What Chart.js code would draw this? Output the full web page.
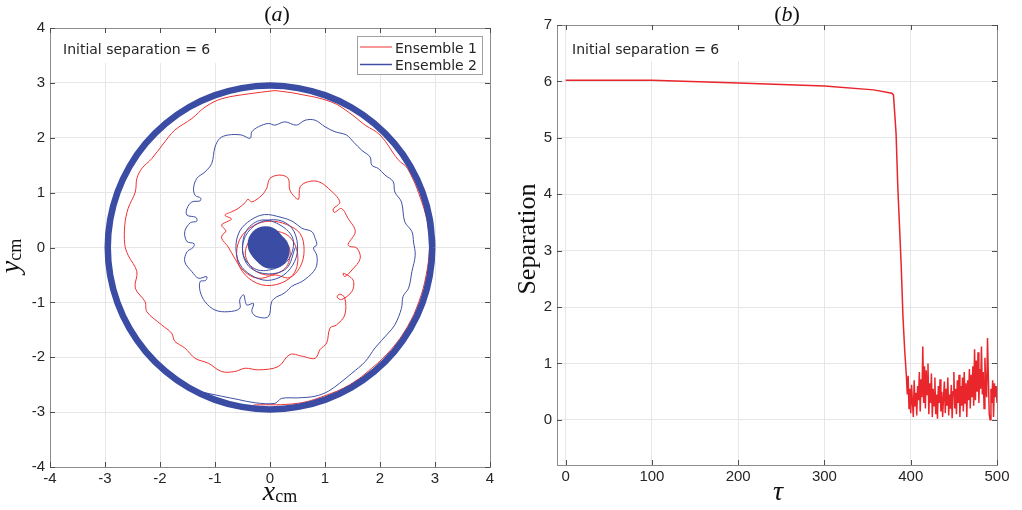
<!DOCTYPE html>
<html lang="en">
<head>
<meta charset="utf-8">
<title>Initial separation = 6</title>
<script src="https://cdn.jsdelivr.net/npm/chart.js@4.4.1/dist/chart.umd.min.js"></script>
<style>
  html, body { margin: 0; padding: 0; background: #fff; }
  #pagina { position: relative; width: 1022px; height: 510px; overflow: hidden; }
  #pagina canvas { position: absolute; top: 0; }
  #grafico-a { left: 0; }
  #grafico-b { left: 511px; }
</style>
</head>
<body>
<div id="pagina">
  <canvas id="grafico-a" width="511" height="510"></canvas>
  <canvas id="grafico-b" width="511" height="510"></canvas>
</div>
<script>
/* ============================================================
   Dados. (a) trajectórias x/y em cm,
   (b) separação entre ensembles ao longo de tau.
   ============================================================ */

const ticksXY = [-4, -3, -2, -1, 0, 1, 2, 3, 4];
const ticksTau = [0, 100, 200, 300, 400, 500];
const ticksSep = [0, 1, 2, 3, 4, 5, 6, 7];

// anel grosso: as órbitas sobrepostas no raio ~2.95
const anelEnsemble2 = [
  [2.95, 0], [2.905, 0.512], [2.772, 1.009], [2.555, 1.475], [2.26, 1.896], [1.896, 2.26],
  [1.475, 2.555], [1.009, 2.772], [0.512, 2.905], [0, 2.95], [-0.512, 2.905], [-1.009, 2.772],
  [-1.475, 2.555], [-1.896, 2.26], [-2.26, 1.896], [-2.555, 1.475], [-2.772, 1.009], [-2.905, 0.512],
  [-2.95, 0], [-2.905, -0.512], [-2.772, -1.009], [-2.555, -1.475], [-2.26, -1.896], [-1.896, -2.26],
  [-1.475, -2.555], [-1.009, -2.772], [-0.512, -2.905], [0, -2.95], [0.512, -2.905], [1.009, -2.772],
  [1.475, -2.555], [1.896, -2.26], [2.26, -1.896], [2.555, -1.475], [2.772, -1.009], [2.905, -0.512],
  [2.95, 0], [2.905, 0.512]
];

// Ensemble 1: segue o anel pelo lado direito e depois espirala para dentro
const anelEnsemble1 = [
  [-0.3, -2.87], [0.5, -2.84], [1.0, -2.7], [1.45, -2.5], [1.85, -2.2], [2.2, -1.86], [2.5, -1.44],
  [2.71, -0.98], [2.84, -0.5], [2.9, 0], [2.88, 0.35], [2.76, 0.83], [2.5, 1.44], [2.33, 1.6],
  [2.0, 2.05], [1.73, 2.23], [1.45, 2.45], [1.12, 2.65], [0.51, 2.8], [0.09, 2.86]
];

const espiralEnsemble1 = [
  [0.09, 2.86], [-0.39, 2.80], [-0.88, 2.71], [-1.18, 2.56], [-1.42, 2.35], [-1.73, 2.14], [-1.94, 1.89],
  [-2.15, 1.62], [-2.33, 1.44], [-2.42, 1.26], [-2.45, 1.01], [-2.58, 0.71], [-2.64, 0.41], [-2.64, 0.05],
  [-2.58, -0.14], [-2.42, -0.44], [-2.45, -0.74], [-2.27, -0.99], [-2.24, -1.17], [-1.97, -1.41],
  [-1.79, -1.56], [-1.73, -1.71], [-1.55, -1.83], [-1.36, -2.02], [-1.12, -2.11], [-0.88, -2.26],
  [-0.64, -2.26], [-0.45, -2.2], [-0.21, -2.23], [0.15, -2.17], [0.36, -1.95], [0.58, -1.98],
  [0.82, -2.02], [0.91, -1.86], [1.03, -1.74], [1.09, -1.47], [1.21, -1.41], [1.36, -1.23],
  [1.36, -0.92], [1.27, -0.85], [1.22, -0.9], [1.3, -0.95], [1.49, -0.8], [1.52, -0.62], [1.45, -0.53],
  [1.33, -0.47], [1.36, -0.53], [1.49, -0.41], [1.64, -0.2], [1.58, -0.01], [1.45, 0.02], [1.42, 0.06],
  [1.55, 0.29], [1.42, 0.53], [1.30, 0.71], [1.17, 0.64], [1.15, 0.70], [1.27, 0.83], [1.06, 1.08],
  [0.88, 1.2], [0.70, 1.2], [0.55, 1.11], [0.52, 0.88], [0.45, 0.92], [0.36, 1.05], [0.33, 1.26],
  [0.18, 1.32], [0, 1.26], [-0.06, 1.08], [-0.15, 0.95], [-0.33, 0.83], [-0.4, 0.88], [-0.45, 0.82],
  [-0.58, 0.71], [-0.70, 0.65], [-0.82, 0.59], [-0.7, 0.52], [-0.76, 0.48], [-0.88, 0.41], [-0.8, 0.3],
  [-0.85, 0.25], [-0.88, 0.17], [-0.76, 0.01], [-0.64, -0.2], [-0.52, -0.38], [-0.33, -0.53],
  [-0.15, -0.56], [0.09, -0.5], [0.35, -0.55], [0.55, -0.35], [0.62, -0.05], [0.55, 0.25], [0.3, 0.42],
  [0.0, 0.48], [-0.3, 0.4], [-0.55, 0.15], [-0.6, -0.2], [-0.45, -0.5], [-0.15, -0.68], [0.2, -0.65],
  [0.45, -0.45], [0.5, -0.1], [0.35, 0.2], [0.05, 0.3], [-0.3, 0.2], [-0.45, -0.1], [-0.3, -0.4],
  [0.0, -0.5], [0.3, -0.35], [0.35, 0.0], [0.1, 0.2], [-0.15, 0.05]
];

// Ensemble 2: sai do anel em baixo, sobe pela direita e fecha no centro
const espiralEnsemble2 = [
  [-1.4, -2.6], [-0.88, -2.71], [-0.58, -2.77], [-0.27, -2.83], [0.09, -2.84], [0.21, -2.75], [0.52, -2.74],
  [0.82, -2.71], [1.06, -2.62], [1.27, -2.47], [1.49, -2.29], [1.73, -2.08], [1.91, -1.83], [2.15, -1.56],
  [2.27, -1.41], [2.39, -1.11], [2.42, -0.89], [2.52, -0.74], [2.58, -0.44], [2.64, -0.14], [2.61, 0.1],
  [2.58, 0.29], [2.45, 0.47], [2.39, 0.83], [2.27, 1.01], [2.24, 1.2], [2.09, 1.32], [1.97, 1.44],
  [1.85, 1.5], [1.82, 1.65], [1.67, 1.77], [1.52, 1.92], [1.39, 2.05], [1.18, 2.11], [1.0, 2.2],
  [0.82, 2.32], [0.64, 2.32], [0.48, 2.23], [0.27, 2.29], [0.09, 2.23], [-0.03, 2.26], [-0.21, 2.2],
  [-0.33, 2.11], [-0.36, 1.99], [-0.52, 2.05], [-0.76, 2.05], [-0.91, 1.99], [-1.0, 1.83], [-1.06, 1.53],
  [-1.18, 1.38], [-1.33, 1.26], [-1.39, 1.08], [-1.36, 0.95], [-1.26, 0.9], [-1.27, 0.85], [-1.42, 0.83],
  [-1.51, 0.71], [-1.51, 0.59], [-1.35, 0.55], [-1.33, 0.48], [-1.45, 0.45], [-1.55, 0.29], [-1.51, 0.11],
  [-1.38, 0.07], [-1.4, 0.0], [-1.51, -0.08], [-1.55, -0.26], [-1.42, -0.44], [-1.30, -0.56], [-1.15, -0.53],
  [-1.17, -0.6], [-1.27, -0.62], [-1.27, -0.8], [-1.18, -0.99], [-1.0, -1.14], [-0.76, -1.17], [-0.55, -1.11],
  [-0.55, -0.95], [-0.48, -0.86], [-0.45, -0.98], [-0.42, -1.05], [-0.30, -1.02], [-0.33, -1.17],
  [-0.24, -1.26], [-0.03, -1.26], [0.03, -0.99], [0.12, -0.9], [0.21, -0.86], [0.3, -0.8], [0.39, -0.71],
  [0.58, -0.62], [0.70, -0.53], [0.79, -0.44], [0.85, -0.32], [0.85, -0.14], [0.79, -0.01], [0.85, 0.05],
  [0.82, 0.17], [0.76, 0.29], [0.58, 0.35], [0.42, 0.47], [0.2, 0.55], [-0.1, 0.6], [-0.35, 0.5],
  [-0.55, 0.3], [-0.62, 0.0], [-0.55, -0.3], [-0.35, -0.5], [-0.05, -0.6], [0.25, -0.5], [0.45, -0.25],
  [0.5, 0.05], [0.4, 0.35], [0.15, 0.5], [-0.2, 0.45], [-0.45, 0.2], [-0.48, -0.15], [-0.25, -0.4], [0.1, -0.38],
  [0.35, -0.2], [0.42, 0.15], [0.2, 0.4], [-0.15, 0.5], [-0.42, 0.32], [-0.5, -0.05], [-0.38, -0.35],
  [-0.05, -0.48], [0.3, -0.38], [0.46, 0.0]
];

// aglomerado denso no centro
const nucleoEnsemble2 = [[-0.03, 0.0], [-0.08, 0.06], [0.03, -0.06]];

// (b) separação: patamar, queda e ruído
const tauQueda = [0, 100, 200, 300, 357, 378, 380, 383, 385, 389, 391, 393, 395];
const sepQueda = [6.02, 6.02, 5.97, 5.92, 5.85, 5.79, 5.76, 5.08, 4.14, 2.72, 1.83, 1.24, 0.77];

const tauRuidoInicio = 396;
const sepRuido = [
  0.45, 0.78, 0.20, 0.55, 0.12, 0.62, 0.30, 0.05, 0.70, 0.25, 0.48, 0.08, 0.60, 0.35, 0.85, 0.15,
  0.72, 0.40, 1.30, 0.30, 0.95, 0.20, 0.88, 0.45, 1.00, 0.10, 0.65, 0.30, 0.82, 0.05, 0.55, 0.25,
  0.75, 0.10, 0.45, 0.02, 0.60, 0.30, 0.72, 0.15, 0.50, 0.05, 0.40, 0.68, 0.12, 0.55, 0.25, 0.75,
  0.08, 0.45, 0.20, 0.62, 0.03, 0.50, 0.85, 0.20, 0.55, 0.10, 0.70, 0.30, 0.80, 0.05, 0.60, 0.25,
  0.75, 0.15, 0.85, 0.30, 0.65, 0.05, 0.70, 0.35, 0.90, 0.20, 0.80, 0.40, 0.95, 0.25, 1.25, 0.35,
  1.05, 0.50, 1.20, 0.30, 0.90, 0.55, 1.30, 0.45, 0.85, 0.20, 1.10, 0.60, 0.40, 1.45, 0.75, 0.10,
  0.00, 0.55, 0.30, 0.70, 0.05, 0.65, 0.40, 0.60, 0.30
];

const VERMELHO = '#f03030';
const VERMELHO_B = '#e8262b';
const AZUL = '#3f4fa6';
const AZUL_ANEL = '#3a4ca3';
const CINZA_TEXTO = '#262626';
const FONTE_TICKS = '"Liberation Sans", Arial, sans-serif';

const pontos = lista => lista.map(([x, y]) => ({ x, y }));

/* ---------- Plugin: moldura estilo MATLAB (caixa, ticks para dentro, textos) ---------- */
function desenharPartes(ctx, partes, cx, base) {
  let total = 0;
  partes.forEach(p => { ctx.font = p.fonte; p.w = ctx.measureText(p.texto).width; total += p.w; });
  let x = cx - total / 2;
  partes.forEach(p => { ctx.font = p.fonte; ctx.fillText(p.texto, x, base + (p.dy || 0)); x += p.w; });
}

const molduraMatlab = {
  id: 'molduraMatlab',
  afterDraw(chart, args, opts) {
    const { ctx, chartArea: a, scales } = chart;
    ctx.save();

    // caixa de texto com fundo branco
    const an = opts.anotacao;
    ctx.fillStyle = '#fff';
    ctx.fillRect(an.caixa[0], an.caixa[1], an.caixa[2], an.caixa[3]);
    ctx.fillStyle = CINZA_TEXTO;
    ctx.font = '14px "DejaVu Sans"';
    ctx.textAlign = 'left';
    ctx.textBaseline = 'alphabetic';
    ctx.fillText(an.texto, an.x, an.y);

    // caixa dos eixos
    ctx.strokeStyle = '#8c8c8c';
    ctx.lineWidth = 1;
    ctx.strokeRect(Math.round(a.left) + 0.5, Math.round(a.top) + 0.5, Math.round(a.right - a.left), Math.round(a.bottom - a.top));

    // ticks para dentro nos quatro lados
    ctx.strokeStyle = '#4d4d4d';
    ctx.beginPath();
    scales.x.ticks.forEach(t => {
      const px = Math.round(scales.x.getPixelForValue(t.value)) + 0.5;
      ctx.moveTo(px, a.bottom); ctx.lineTo(px, a.bottom - 5);
      ctx.moveTo(px, a.top); ctx.lineTo(px, a.top + 5);
    });
    scales.y.ticks.forEach(t => {
      const py = Math.round(scales.y.getPixelForValue(t.value)) + 0.5;
      ctx.moveTo(a.left, py); ctx.lineTo(a.left + 5, py);
      ctx.moveTo(a.right, py); ctx.lineTo(a.right - 5, py);
    });
    ctx.stroke();

    // títulos em serif, com subscrito
    ctx.fillStyle = '#111';
    desenharPartes(ctx, opts.titulo.partes, opts.titulo.x, opts.titulo.y);
    desenharPartes(ctx, opts.rotuloX.partes, opts.rotuloX.x, opts.rotuloX.y);
    ctx.save();
    ctx.translate(opts.rotuloY.x, opts.rotuloY.y);
    ctx.rotate(-Math.PI / 2);
    desenharPartes(ctx, opts.rotuloY.partes, 0, 0);
    ctx.restore();

    // legenda desenhada à mão (só no gráfico a)
    if (opts.legenda) {
      const L = opts.legenda;
      ctx.fillStyle = '#fff';
      ctx.fillRect(L.x, L.y, L.w, L.h);
      ctx.strokeStyle = '#a0a0a0';
      ctx.strokeRect(L.x + 0.5, L.y + 0.5, L.w, L.h);
      L.itens.forEach((item, i) => {
        const ly = L.y + 11 + i * 17.5;
        ctx.strokeStyle = item.cor;
        ctx.lineWidth = item.largura;
        ctx.beginPath();
        ctx.moveTo(L.x + 3, ly); ctx.lineTo(L.x + 35, ly);
        ctx.stroke();
        ctx.fillStyle = CINZA_TEXTO;
        ctx.font = '14px "DejaVu Sans"';
        ctx.fillText(item.texto, L.x + 38, ly + 5.5);
      });
    }
    ctx.restore();
  }
};

const serif = (tam, italico) => `${italico ? 'italic ' : ''}${tam}px "Liberation Serif"`;

function escala(min, max, valores, largura, altura) {
  return {
    type: 'linear',
    min, max,
    afterBuildTicks: s => { s.ticks = valores.map(v => ({ value: v })); },
    afterFit: s => {
      if (largura) s.width = largura;
      if (altura) s.height = altura;
      s.paddingLeft = 0; s.paddingRight = 0; s.paddingTop = 0; s.paddingBottom = 0;
    },
    grid: { color: '#e6e6e6', drawTicks: false },
    border: { display: false },
    ticks: { color: CINZA_TEXTO, font: { family: FONTE_TICKS, size: 15 }, padding: largura ? 5 : 3, maxRotation: 0 }
  };
}

new Chart(document.getElementById('grafico-a'), {
  type: 'scatter',
  data: {
    datasets: [
      { label: 'Ensemble 2', data: pontos(anelEnsemble2), showLine: true, borderColor: AZUL_ANEL, borderWidth: 6.5, tension: 0.4, pointRadius: 0, order: 0 },
      { label: 'Ensemble 2', data: pontos(nucleoEnsemble2), showLine: false, pointRadius: 18, pointBackgroundColor: AZUL_ANEL, pointBorderWidth: 0, order: 1 },
      { label: 'Ensemble 2', data: pontos(espiralEnsemble2), showLine: true, borderColor: AZUL, borderWidth: 1, tension: 0.35, pointRadius: 0, order: 2 },
      { label: 'Ensemble 1', data: pontos(espiralEnsemble1), showLine: true, borderColor: VERMELHO, borderWidth: 1, tension: 0.35, pointRadius: 0, order: 3 },
      { label: 'Ensemble 1', data: pontos(anelEnsemble1), showLine: true, borderColor: VERMELHO, borderWidth: 1, tension: 0.4, pointRadius: 0, order: 4 }
    ]
  },
  options: {
    responsive: false,
    animation: false,
    events: [],
    layout: { padding: { top: 28, right: 21, left: 0, bottom: 0 } },
    scales: {
      x: escala(-4, 4, ticksXY, null, 43),
      y: escala(-4, 4, ticksXY, 50, null)
    },
    plugins: {
      legend: { display: false },
      tooltip: { enabled: false },
      molduraMatlab: {
        titulo: { x: 277, y: 21, partes: [{ texto: '(', fonte: serif(22) }, { texto: 'a', fonte: serif(22, true) }, { texto: ')', fonte: serif(22) }] },
        rotuloX: { x: 280, y: 500, partes: [{ texto: 'x', fonte: serif(28, true) }, { texto: 'cm', fonte: serif(18), dy: 2 }] },
        rotuloY: { x: 19, y: 256, partes: [{ texto: 'y', fonte: serif(28, true) }, { texto: 'cm', fonte: serif(18), dy: 2 }] },
        anotacao: { texto: 'Initial separation = 6', x: 63, y: 54, caixa: [57, 33, 162, 30] },
        legenda: {
          x: 357, y: 36, w: 125, h: 38,
          itens: [
            { texto: 'Ensemble 1', cor: VERMELHO, largura: 1 },
            { texto: 'Ensemble 2', cor: AZUL, largura: 1.5 }
          ]
        }
      }
    }
  },
  plugins: [molduraMatlab]
});

const serieSeparacao = tauQueda.map((t, i) => ({ x: t, y: sepQueda[i] }))
  .concat(sepRuido.map((s, i) => ({ x: tauRuidoInicio + i, y: s })));

new Chart(document.getElementById('grafico-b'), {
  type: 'scatter',
  data: {
    datasets: [
      { label: 'Separation', data: serieSeparacao, showLine: true, borderColor: VERMELHO_B, borderWidth: 1.5, pointRadius: 0 }
    ]
  },
  options: {
    responsive: false,
    animation: false,
    events: [],
    layout: { padding: { top: 25, right: 25, left: 0, bottom: 0 } },
    scales: {
      x: escala(-10, 500, ticksTau, null, 45),
      y: escala(-0.8, 7, ticksSep, 46, null)
    },
    plugins: {
      legend: { display: false },
      tooltip: { enabled: false },
      molduraMatlab: {
        titulo: { x: 276, y: 21, partes: [{ texto: '(', fonte: serif(22) }, { texto: 'b', fonte: serif(22, true) }, { texto: ')', fonte: serif(22) }] },
        rotuloX: { x: 267, y: 500, partes: [{ texto: 'τ', fonte: serif(28, true) }] },
        rotuloY: { x: 24, y: 239, partes: [{ texto: 'Separation', fonte: serif(26) }] },
        anotacao: { texto: 'Initial separation = 6', x: 61, y: 54, caixa: [55, 27, 180, 34] }
      }
    }
  },
  plugins: [molduraMatlab]
});
</script>
</body>
</html>
